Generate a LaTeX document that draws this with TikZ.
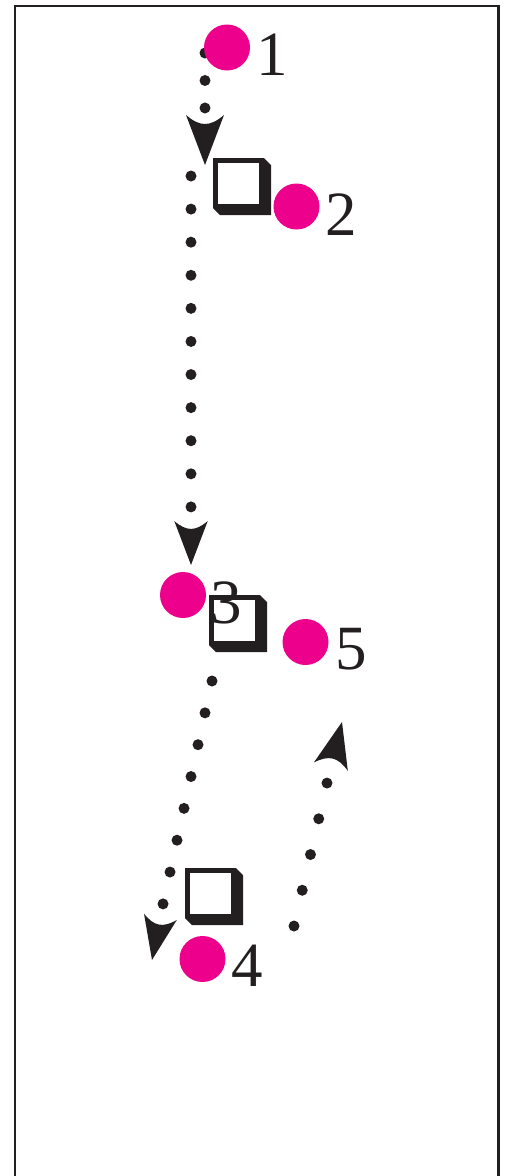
\documentclass[tikz,border=0pt]{standalone}
\usepackage{fontspec}
\setmainfont{Liberation Serif}
\definecolor{ink}{HTML}{231F20}
\definecolor{mag}{HTML}{EC008C}
\tikzset{
  spot/.style={circle,fill=mag,minimum size=46pt,inner sep=0pt},
  num/.style={inner sep=0pt,font=\fontsize{63}{63}\selectfont,text=ink},
  dotline/.style={draw=ink,line width=11pt,line cap=round,dash pattern=on 0pt off #1},
  frameline/.style={draw=ink,line width=2.5pt},
  cube/.pic={\fill[ink] (0,0) -- (51,0) -- (58,7) -- (58,57) -- (7,57) -- (0,50) -- cycle;
             \fill[white] (4.5,4.5) rectangle (46,46);},
  ahead/.pic={\fill[ink] (0,0) -- (-50,19) .. controls (-38,5) and (-38,-5) .. (-50,-19) -- cycle;}
}
\begin{document}
\begin{tikzpicture}[x=1pt,y=-1pt]
\useasboundingbox (0,0) rectangle (506,1176);
\draw[frameline] (15,1180) -- (15,6) -- (498.5,6) -- (498.5,1180);
% dotted connectors
\coordinate (p1s) at (205,53);  \coordinate (p1e) at (205,108);
\coordinate (p2s) at (191,176); \coordinate (p2e) at (191,507);
\coordinate (p3s) at (212,681); \coordinate (p3e) at (163,904);
\coordinate (p4s) at (294,926); \coordinate (p4e) at (327,783);
\draw[dotline=27.49pt] (p1s) -- (p1e);
\draw[dotline=33.09pt] (p2s) -- (p2e);
\draw[dotline=32.6pt] (p3s) -- (p3e);
\draw[dotline=36.68pt] (p4s) -- (p4e);
% arrowheads
\pic (a1) [rotate=-90] at (205,165) {ahead};
\pic (a2) [rotate=-90,scale=0.88] at (191,565) {ahead};
\pic (a3) [rotate=-101,scale=0.88] at (152,960) {ahead};
\pic (a4) [rotate=76,scale=0.92] at (342,722) {ahead};
% cubes
\pic (b2) at (213,158) {cube};
\pic (b3) at (209,595) {cube};
\pic (b4) at (185,868) {cube};
% spots
\node[spot] (c1) at (227,47.5) {};
\node[spot] (c2) at (296.5,206.5) {};
\node[spot] (c3) at (183,595) {};
\node[spot] (c4) at (202.5,959) {};
\node[spot] (c5) at (305.5,642) {};
% labels
\node[num] (l1) at (272,55) {1};
\node[num] (l2) at (341,215) {2};
\node[num] (l3) at (226.5,602.5) {3};
\node[num] (l4) at (247.5,966) {4};
\node[num] (l5) at (351,649) {5};
\end{tikzpicture}
\end{document}
